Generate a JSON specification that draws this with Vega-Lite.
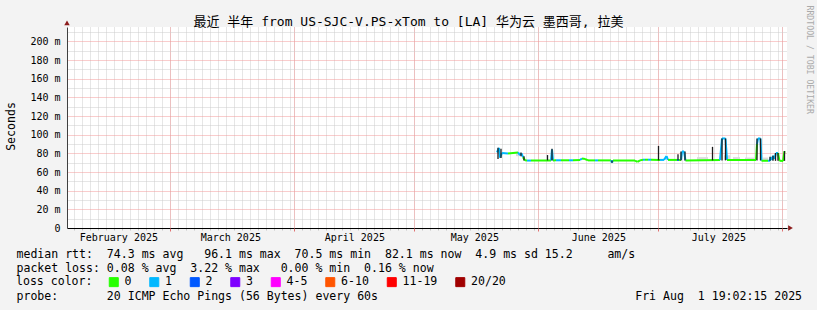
{
  "$schema": "https://vega.github.io/schema/vega-lite/v6.json",
  "width": 720,
  "height": 201,
  "autosize": {"type": "none"},
  "padding": {"left": 67, "top": 27, "right": 30, "bottom": 82},
  "background": "#f3f3f3",
  "config": {
    "font": "DejaVu Sans Mono, Noto Sans CJK SC",
    "view": {"fill": "white", "stroke": null},
    "axis": {"labelColor": "black", "titleColor": "black", "titleFontWeight": "normal", "labelFontSize": 10, "labelFlush": false, "labelOverlap": false}
  },
  "datasets": {
    "smoke": [
      {"t": "2025-05-26T10:00", "t2": "2025-05-27T10:00", "lo": 77, "hi": 80},
      {"t": "2025-07-10T16:00", "t2": "2025-07-13T10:00", "lo": 73, "hi": 76},
      {"t": "2025-07-17T10:00", "t2": "2025-07-18T22:00", "lo": 73, "hi": 78},
      {"t": "2025-07-19T16:00", "t2": "2025-07-21T10:00", "lo": 73, "hi": 76},
      {"t": "2025-07-22T16:00", "t2": "2025-07-25T10:00", "lo": 73, "hi": 75.5},
      {"t": "2025-07-27T04:00", "t2": "2025-07-28T10:00", "lo": 73, "hi": 75.5}
    ],
    "median": [
      {"t": "2025-05-21T16:00", "t2": "2025-05-22T04:00", "ms": 81, "ms2": 86, "loss": "1"},
      {"t": "2025-05-22T04:00", "t2": "2025-05-22T10:00", "ms": 86, "ms2": 75.5, "loss": "1"},
      {"t": "2025-05-22T10:00", "t2": "2025-05-22T22:00", "ms": 75.5, "ms2": 80.5, "loss": "1"},
      {"t": "2025-05-22T22:00", "t2": "2025-05-24T10:00", "ms": 80.5, "ms2": 80, "loss": "1"},
      {"t": "2025-05-24T10:00", "t2": "2025-05-26T22:00", "ms": 80, "ms2": 81, "loss": "0"},
      {"t": "2025-05-26T22:00", "t2": "2025-05-27T10:00", "ms": 81, "ms2": 78, "loss": "1"},
      {"t": "2025-05-27T10:00", "t2": "2025-05-27T19:00", "ms": 78, "ms2": 80, "loss": "1"},
      {"t": "2025-05-27T19:00", "t2": "2025-05-28T04:00", "ms": 80, "ms2": 76, "loss": "1"},
      {"t": "2025-05-28T04:00", "t2": "2025-05-28T16:00", "ms": 76, "ms2": 72.5, "loss": "0"},
      {"t": "2025-05-28T16:00", "t2": "2025-05-29T04:00", "ms": 72.5, "ms2": 72.3, "loss": "0"},
      {"t": "2025-05-29T04:00", "t2": "2025-05-30T04:00", "ms": 72.3, "ms2": 72.3, "loss": "1"},
      {"t": "2025-05-30T04:00", "t2": "2025-06-04T04:00", "ms": 72.3, "ms2": 72.5, "loss": "0"},
      {"t": "2025-06-04T04:00", "t2": "2025-06-04T10:00", "ms": 72.5, "ms2": 84, "loss": "1"},
      {"t": "2025-06-04T10:00", "t2": "2025-06-04T16:00", "ms": 84, "ms2": 72.5, "loss": "1"},
      {"t": "2025-06-04T16:00", "t2": "2025-06-05T10:00", "ms": 72.5, "ms2": 72.6, "loss": "0"},
      {"t": "2025-06-05T10:00", "t2": "2025-06-06T16:00", "ms": 72.6, "ms2": 72.6, "loss": "1"},
      {"t": "2025-06-06T16:00", "t2": "2025-06-08T16:00", "ms": 72.6, "ms2": 72.6, "loss": "0"},
      {"t": "2025-06-08T16:00", "t2": "2025-06-09T16:00", "ms": 72.6, "ms2": 72.6, "loss": "1"},
      {"t": "2025-06-09T16:00", "t2": "2025-06-11T10:00", "ms": 72.6, "ms2": 72.8, "loss": "0"},
      {"t": "2025-06-11T10:00", "t2": "2025-06-11T22:00", "ms": 72.8, "ms2": 74.6, "loss": "1"},
      {"t": "2025-06-11T22:00", "t2": "2025-06-12T16:00", "ms": 74.6, "ms2": 74, "loss": "0"},
      {"t": "2025-06-12T16:00", "t2": "2025-06-13T10:00", "ms": 74, "ms2": 72.5, "loss": "0"},
      {"t": "2025-06-13T10:00", "t2": "2025-06-15T04:00", "ms": 72.5, "ms2": 72.5, "loss": "0"},
      {"t": "2025-06-15T04:00", "t2": "2025-06-15T22:00", "ms": 72.5, "ms2": 72.5, "loss": "1"},
      {"t": "2025-06-15T22:00", "t2": "2025-06-19T04:00", "ms": 72.5, "ms2": 72.5, "loss": "0"},
      {"t": "2025-06-19T04:00", "t2": "2025-06-19T10:00", "ms": 72.5, "ms2": 70, "loss": "1"},
      {"t": "2025-06-19T10:00", "t2": "2025-06-19T16:00", "ms": 70, "ms2": 72.5, "loss": "1"},
      {"t": "2025-06-19T16:00", "t2": "2025-06-25T04:00", "ms": 72.5, "ms2": 72.3, "loss": "0"},
      {"t": "2025-06-25T04:00", "t2": "2025-06-25T19:00", "ms": 72.3, "ms2": 71, "loss": "0"},
      {"t": "2025-06-25T19:00", "t2": "2025-06-26T10:00", "ms": 71, "ms2": 72.5, "loss": "0"},
      {"t": "2025-06-26T10:00", "t2": "2025-06-27T04:00", "ms": 72.5, "ms2": 73.2, "loss": "0"},
      {"t": "2025-06-27T04:00", "t2": "2025-06-27T16:00", "ms": 73.2, "ms2": 73.2, "loss": "1"},
      {"t": "2025-06-27T16:00", "t2": "2025-06-28T10:00", "ms": 73.2, "ms2": 73.2, "loss": "0"},
      {"t": "2025-06-28T10:00", "t2": "2025-06-29T04:00", "ms": 73.2, "ms2": 73.2, "loss": "1"},
      {"t": "2025-06-29T04:00", "t2": "2025-07-01T10:00", "ms": 73.2, "ms2": 73, "loss": "0"},
      {"t": "2025-07-01T10:00", "t2": "2025-07-02T10:00", "ms": 73, "ms2": 73, "loss": "1"},
      {"t": "2025-07-02T10:00", "t2": "2025-07-03T01:00", "ms": 73, "ms2": 77, "loss": "1"},
      {"t": "2025-07-03T01:00", "t2": "2025-07-03T10:00", "ms": 77, "ms2": 73, "loss": "1"},
      {"t": "2025-07-03T10:00", "t2": "2025-07-05T16:00", "ms": 73, "ms2": 73, "loss": "0"},
      {"t": "2025-07-05T16:00", "t2": "2025-07-06T04:00", "ms": 73, "ms2": 73, "loss": "1"},
      {"t": "2025-07-06T04:00", "t2": "2025-07-06T16:00", "ms": 73, "ms2": 73, "loss": "0"},
      {"t": "2025-07-06T16:00", "t2": "2025-07-06T22:00", "ms": 73, "ms2": 82, "loss": "1"},
      {"t": "2025-07-06T22:00", "t2": "2025-07-07T10:00", "ms": 82, "ms2": 82, "loss": "1"},
      {"t": "2025-07-07T10:00", "t2": "2025-07-07T19:00", "ms": 82, "ms2": 72.5, "loss": "1"},
      {"t": "2025-07-07T19:00", "t2": "2025-07-16T10:00", "ms": 72.5, "ms2": 72.8, "loss": "0"},
      {"t": "2025-07-16T10:00", "t2": "2025-07-16T22:00", "ms": 72.8, "ms2": 96, "loss": "1"},
      {"t": "2025-07-16T22:00", "t2": "2025-07-17T19:00", "ms": 96, "ms2": 96, "loss": "1"},
      {"t": "2025-07-17T19:00", "t2": "2025-07-18T04:00", "ms": 96, "ms2": 72.9, "loss": "1"},
      {"t": "2025-07-18T04:00", "t2": "2025-07-25T10:00", "ms": 72.9, "ms2": 72.9, "loss": "0"},
      {"t": "2025-07-25T10:00", "t2": "2025-07-25T16:00", "ms": 72.9, "ms2": 90, "loss": "0"},
      {"t": "2025-07-25T16:00", "t2": "2025-07-25T22:00", "ms": 90, "ms2": 96, "loss": "1"},
      {"t": "2025-07-25T22:00", "t2": "2025-07-26T13:00", "ms": 96, "ms2": 96, "loss": "1"},
      {"t": "2025-07-26T13:00", "t2": "2025-07-26T19:00", "ms": 96, "ms2": 72.1, "loss": "1"},
      {"t": "2025-07-26T19:00", "t2": "2025-07-28T10:00", "ms": 72.1, "ms2": 72, "loss": "0"},
      {"t": "2025-07-28T10:00", "t2": "2025-07-28T22:00", "ms": 72, "ms2": 72, "loss": "1"},
      {"t": "2025-07-28T22:00", "t2": "2025-07-29T04:00", "ms": 72, "ms2": 76, "loss": "1"},
      {"t": "2025-07-29T04:00", "t2": "2025-07-29T10:00", "ms": 76, "ms2": 73, "loss": "1"},
      {"t": "2025-07-29T10:00", "t2": "2025-07-29T16:00", "ms": 73, "ms2": 77.5, "loss": "1"},
      {"t": "2025-07-29T16:00", "t2": "2025-07-30T01:00", "ms": 77.5, "ms2": 74, "loss": "1"},
      {"t": "2025-07-30T01:00", "t2": "2025-07-30T10:00", "ms": 74, "ms2": 80.4, "loss": "1"},
      {"t": "2025-07-30T10:00", "t2": "2025-07-30T22:00", "ms": 80.4, "ms2": 80.4, "loss": "1"},
      {"t": "2025-07-30T22:00", "t2": "2025-07-31T07:00", "ms": 80.4, "ms2": 72, "loss": "0"},
      {"t": "2025-07-31T07:00", "t2": "2025-08-01T04:00", "ms": 72, "ms2": 71.8, "loss": "0"},
      {"t": "2025-08-01T04:00", "t2": "2025-08-01T13:00", "ms": 71.8, "ms2": 82.5, "loss": "0"}
    ],
    "spikes": [
      {"t": "2025-05-21T22:00", "lo": 74, "hi": 86},
      {"t": "2025-05-22T16:00", "lo": 75, "hi": 85},
      {"t": "2025-05-27T16:00", "lo": 77, "hi": 81},
      {"t": "2025-05-28T10:00", "lo": 72.5, "hi": 77},
      {"t": "2025-06-03T07:00", "lo": 72.5, "hi": 78.2},
      {"t": "2025-06-04T10:00", "lo": 72.5, "hi": 85},
      {"t": "2025-06-19T10:00", "lo": 70, "hi": 72.5},
      {"t": "2025-07-01T01:00", "lo": 72.5, "hi": 88},
      {"t": "2025-07-05T22:00", "lo": 72.5, "hi": 79},
      {"t": "2025-07-06T16:00", "lo": 72.5, "hi": 82},
      {"t": "2025-07-07T16:00", "lo": 72.5, "hi": 82},
      {"t": "2025-07-14T13:00", "lo": 72.5, "hi": 87},
      {"t": "2025-07-16T22:00", "lo": 72.5, "hi": 96},
      {"t": "2025-07-17T19:00", "lo": 72.5, "hi": 96},
      {"t": "2025-07-25T16:00", "lo": 72.5, "hi": 96},
      {"t": "2025-07-26T13:00", "lo": 72.5, "hi": 96},
      {"t": "2025-07-28T22:00", "lo": 72, "hi": 76.4},
      {"t": "2025-07-29T16:00", "lo": 72, "hi": 77.5},
      {"t": "2025-07-30T07:00", "lo": 72, "hi": 80.4},
      {"t": "2025-07-30T22:00", "lo": 72, "hi": 80.4},
      {"t": "2025-08-01T13:00", "lo": 72, "hi": 82.5}
    ]
  },
  "resolve": {"axis": {"x": "independent", "y": "independent"}},
  "layer": [
    {
      "data": {"name": "smoke"},
      "mark": {"type": "rect", "color": "#dcdcdc"},
      "encoding": {
        "x": {"field": "t", "type": "temporal",
          "scale": {"domain": [{"year": 2025, "month": 2, "date": 3, "hours": 4}, {"year": 2025, "month": 8, "date": 2, "hours": 4}], "nice": false},
          "axis": {"orient": "bottom", "tickCount": {"interval": "day", "step": 2}, "labels": false, "domain": false, "ticks": true, "tickColor": "#c4c4c4", "tickSize": 2, "grid": true, "gridColor": "#cdcdcd", "gridDash": [1, 1], "gridWidth": 1,
            "title": "probe:\u00a0\u00a0\u00a0\u00a0\u00a0\u00a0\u00a020\u00a0ICMP\u00a0Echo\u00a0Pings\u00a0(56\u00a0Bytes)\u00a0every\u00a060s\u00a0\u00a0\u00a0\u00a0\u00a0\u00a0\u00a0\u00a0\u00a0\u00a0\u00a0\u00a0\u00a0\u00a0\u00a0\u00a0\u00a0\u00a0\u00a0\u00a0\u00a0\u00a0\u00a0\u00a0\u00a0\u00a0\u00a0\u00a0\u00a0\u00a0\u00a0\u00a0\u00a0\u00a0\u00a0\u00a0\u00a0Fri\u00a0Aug\u00a0\u00a01\u00a019:02:15\u00a02025",
            "titleFontSize": 11.56, "titleAnchor": "start", "titleAlign": "left", "titleBaseline": "top", "titleX": -51, "titleY": 62}},
        "x2": {"field": "t2"},
        "y": {"field": "lo", "type": "quantitative",
          "scale": {"domain": [0, 215.5], "nice": false},
          "axis": {"orient": "left", "values": [10, 30, 50, 70, 90, 110, 130, 150, 170, 190, 210], "labels": false, "domain": false, "ticks": false, "grid": true, "gridColor": "#cdcdcd", "gridDash": [1, 1], "gridWidth": 1, "title": null}},
        "y2": {"field": "hi"}
      }
    },
    {
      "data": {"name": "median"},
      "mark": {"type": "rule", "strokeWidth": 2, "strokeCap": "butt"},
      "encoding": {
        "x": {"field": "t", "type": "temporal",
          "scale": {"domain": [{"year": 2025, "month": 2, "date": 3, "hours": 4}, {"year": 2025, "month": 8, "date": 2, "hours": 4}], "nice": false},
          "axis": {"orient": "bottom",
            "values": [{"year": 2025, "month": 2, "date": 16}, {"year": 2025, "month": 3, "date": 16}, {"year": 2025, "month": 4, "date": 16}, {"year": 2025, "month": 5, "date": 16}, {"year": 2025, "month": 6, "date": 16}, {"year": 2025, "month": 7, "date": 16}],
            "format": "%B %Y", "labelFontSize": 10, "ticks": false, "domain": true, "domainColor": "black", "domainWidth": 1, "grid": false,
            "labelPadding": 9.5, "labelBaseline": "middle",
            "title": [
              "median\u00a0rtt:\u00a0\u00a074.3\u00a0ms\u00a0avg\u00a0\u00a0\u00a096.1\u00a0ms\u00a0max\u00a0\u00a070.5\u00a0ms\u00a0min\u00a0\u00a082.1\u00a0ms\u00a0now\u00a0\u00a04.9\u00a0ms\u00a0sd\u00a015.2\u00a0\u00a0\u00a0\u00a0\u00a0am/s",
              "packet\u00a0loss:\u00a00.08\u00a0%\u00a0avg\u00a0\u00a03.22\u00a0%\u00a0max\u00a0\u00a0\u00a00.00\u00a0%\u00a0min\u00a0\u00a00.16\u00a0%\u00a0now"
            ],
            "titleFontSize": 11.56, "titleAnchor": "start", "titleAlign": "left", "titleBaseline": "top", "titleX": -51, "titleY": 20, "titleLineHeight": 14}},
        "x2": {"field": "t2"},
        "y": {"field": "ms", "type": "quantitative",
          "scale": {"domain": [0, 215.5], "nice": false},
          "axis": {"orient": "left", "values": [0, 20, 40, 60, 80, 100, 120, 140, 160, 180, 200],
            "labelExpr": "datum.value == 0 ? '0' : datum.value + ' m'", "labelFontSize": 10, "labelPadding": 7, "labelBaseline": "middle",
            "ticks": false, "domain": true, "domainColor": "#404040", "grid": false,
            "title": "Seconds", "titleFontSize": 11.56, "titleX": -56, "titleY": 99, "titleAngle": 270, "titleBaseline": "middle", "titleAlign": "center"}},
        "y2": {"field": "ms2"},
        "color": {"field": "loss", "type": "nominal",
          "scale": {"domain": ["0", "1", "2", "3", "4-5", "6-10", "11-19", "20/20"], "range": ["#26ff00", "#00b8ff", "#0059ff", "#7e00ff", "#ff00ff", "#ff5500", "#ff0000", "#a00000"]},
          "legend": {"title": "loss color:", "orient": "none", "legendX": -51, "legendY": 249, "direction": "horizontal",
            "titleOrient": "left", "titleFontSize": 11.56, "titleFontWeight": "normal", "titleColor": "black", "titlePadding": 15,
            "symbolType": "square", "symbolSize": 81, "symbolStrokeWidth": 1, "symbolStrokeColor": "black",
            "labelFontSize": 11.56, "labelColor": "black", "labelOffset": 5, "columnPadding": 15.5, "padding": 0,
            "encode": {"symbols": {"update": {"fill": {"scale": "color", "field": "value"}, "stroke": {"value": "black"}, "strokeWidth": {"value": 1}, "opacity": {"value": 1}}}}}}
      }
    },
    {
      "data": {"name": "spikes"},
      "mark": {"type": "rule", "color": "#1c1c1c", "strokeWidth": 1.3},
      "encoding": {
        "x": {"field": "t", "type": "temporal",
          "scale": {"domain": [{"year": 2025, "month": 2, "date": 3, "hours": 4}, {"year": 2025, "month": 8, "date": 2, "hours": 4}], "nice": false},
          "axis": {"orient": "bottom",
            "values": [{"year": 2025, "month": 3, "date": 1}, {"year": 2025, "month": 4, "date": 1}, {"year": 2025, "month": 5, "date": 1}, {"year": 2025, "month": 6, "date": 1}, {"year": 2025, "month": 7, "date": 1}, {"year": 2025, "month": 8, "date": 1}],
            "labels": false, "domain": false, "ticks": true, "tickColor": "#e07070", "tickSize": 3, "grid": true, "gridColor": "#f29a9a", "gridDash": [1, 1], "gridWidth": 1, "title": null}},
        "y": {"field": "lo", "type": "quantitative",
          "scale": {"domain": [0, 215.5], "nice": false},
          "axis": {"orient": "left", "values": [20, 40, 60, 80, 100, 120, 140, 160, 180, 200], "labels": false, "domain": false, "ticks": false, "grid": true, "gridColor": "#f29a9a", "gridDash": [1, 1], "gridWidth": 1, "title": null}},
        "y2": {"field": "hi"}
      }
    },
    {
      "data": {"values": [{}]},
      "mark": {"type": "point", "shape": "triangle-right", "filled": true, "color": "#8c1c1c", "size": 30, "opacity": 1},
      "encoding": {
        "x": {"datum": {"year": 2025, "month": 8, "date": 3, "hours": 1}, "type": "temporal",
          "scale": {"domain": [{"year": 2025, "month": 2, "date": 3, "hours": 4}, {"year": 2025, "month": 8, "date": 2, "hours": 4}], "nice": false},
          "axis": {"orient": "top", "labels": false, "ticks": false, "domain": false, "grid": false,
            "title": "最近 半年 from US-SJC-V.PS-xTom to [LA] 华为云 墨西哥, 拉美", "titleFontSize": 13, "titleX": 341, "titleY": -5.5, "titleAlign": "center", "titleBaseline": "middle"}},
        "y": {"datum": 0, "type": "quantitative",
          "scale": {"domain": [0, 215.5], "nice": false},
          "axis": {"orient": "right", "labels": false, "ticks": false, "domain": false, "grid": false,
            "title": "RRDTOOL / TOBI OETIKER", "titleFontSize": 8.2, "titleColor": "#aaaaaa", "titleAngle": 90, "titleX": 21.6, "titleY": -22, "titleAlign": "left", "titleBaseline": "middle"}}
      }
    },
    {
      "data": {"values": [{}]},
      "mark": {"type": "point", "shape": "triangle-up", "filled": true, "color": "#8c1c1c", "size": 30, "opacity": 1},
      "encoding": {
        "x": {"datum": {"year": 2025, "month": 2, "date": 3, "hours": 4}, "type": "temporal",
          "scale": {"domain": [{"year": 2025, "month": 2, "date": 3, "hours": 4}, {"year": 2025, "month": 8, "date": 2, "hours": 4}], "nice": false},
          "axis": null},
        "y": {"datum": 220, "type": "quantitative",
          "scale": {"domain": [0, 215.5], "nice": false},
          "axis": null}
      }
    }
  ]
}
